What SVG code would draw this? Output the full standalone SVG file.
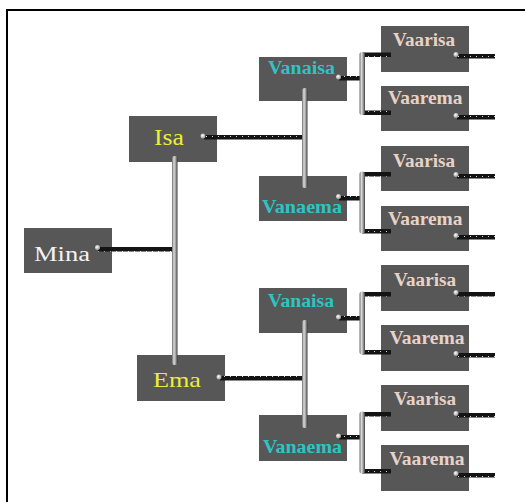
<svg xmlns="http://www.w3.org/2000/svg" width="525" height="502" viewBox="0 0 525 502">
<style>
.box{fill:#575757}
.t{font-family:"Liberation Serif","Times New Roman",serif}
.b{font-weight:bold}
.y{fill:#ecec3a}
.w{fill:#f2f2f2}
.c{fill:#2ec4c4}
.p{fill:#e8d2c6}
.bar{fill:url(#dots)}
.pipe{fill:url(#pipe)}
.knob{fill:url(#knobg)}
</style>
<defs>
<pattern id="dots" patternUnits="userSpaceOnUse" width="6" height="5">
<rect width="6" height="5" fill="#141414"/>
<rect x="2" y="1" width="1" height="1" fill="#d8d8d8"/>
</pattern>
<linearGradient id="pipe" x1="0" y1="0" x2="1" y2="0">
<stop offset="0" stop-color="#6a6a6a"/>
<stop offset="0.35" stop-color="#dcdcdc"/>
<stop offset="0.65" stop-color="#a2a2a2"/>
<stop offset="1" stop-color="#3e3e3e"/>
</linearGradient>
<radialGradient id="knobg" cx="0.4" cy="0.4" r="0.6">
<stop offset="0" stop-color="#ffffff"/>
<stop offset="1" stop-color="#9a9a9a"/>
</radialGradient>
</defs>
<rect width="525" height="502" fill="#ffffff"/>
<g id="frame">
<line x1="6" y1="10" x2="525" y2="10" stroke="#000" stroke-width="2"/>
<line x1="7" y1="9" x2="7" y2="502" stroke="#000" stroke-width="2"/>
</g>
<g id="mina"><rect class="box" x="24" y="228" width="88" height="45"/><text class="t w" x="34" y="261" font-size="20" textLength="56" lengthAdjust="spacingAndGlyphs">Mina</text></g>
<g id="isa"><rect class="box" x="129" y="116" width="88" height="46"/><text class="t y" x="154" y="145" font-size="23" textLength="30" lengthAdjust="spacingAndGlyphs">Isa</text></g>
<g id="ema"><rect class="box" x="137" y="355" width="88" height="46"/><text class="t y" x="153" y="387" font-size="22" textLength="48" lengthAdjust="spacingAndGlyphs">Ema</text></g>
<g id="vanaisa1"><rect class="box" x="259" y="57" width="88" height="44"/><text class="t b c" x="268" y="74" font-size="18.5" textLength="67" lengthAdjust="spacingAndGlyphs">Vanaisa</text></g>
<g id="vanaema1"><rect class="box" x="259" y="176" width="88" height="45"/><text class="t b c" x="262" y="213" font-size="19" textLength="80" lengthAdjust="spacingAndGlyphs">Vanaema</text></g>
<g id="vanaisa2"><rect class="box" x="259" y="288" width="88" height="45"/><text class="t b c" x="268" y="306.5" font-size="18.5" textLength="66" lengthAdjust="spacingAndGlyphs">Vanaisa</text></g>
<g id="vanaema2"><rect class="box" x="259" y="415" width="88" height="46"/><text class="t b c" x="263" y="453" font-size="19" textLength="79" lengthAdjust="spacingAndGlyphs">Vanaema</text></g>
<g id="vaarisa1"><rect class="box" x="381" y="26" width="88" height="46"/><text class="t b p" x="393" y="46" font-size="18.5" textLength="62" lengthAdjust="spacingAndGlyphs">Vaarisa</text></g>
<g id="vaarema1"><rect class="box" x="381" y="86" width="88" height="45"/><text class="t b p" x="388" y="103.5" font-size="19" textLength="74.5" lengthAdjust="spacingAndGlyphs">Vaarema</text></g>
<g id="vaarisa2"><rect class="box" x="381" y="146" width="88" height="45"/><text class="t b p" x="393" y="166.5" font-size="18.5" textLength="62" lengthAdjust="spacingAndGlyphs">Vaarisa</text></g>
<g id="vaarema2"><rect class="box" x="381" y="206" width="88" height="45"/><text class="t b p" x="388" y="225" font-size="19" textLength="74.5" lengthAdjust="spacingAndGlyphs">Vaarema</text></g>
<g id="vaarisa3"><rect class="box" x="381" y="265" width="88" height="46"/><text class="t b p" x="394" y="286" font-size="18.5" textLength="62" lengthAdjust="spacingAndGlyphs">Vaarisa</text></g>
<g id="vaarema3"><rect class="box" x="381" y="325" width="88" height="46"/><text class="t b p" x="389.5" y="343.5" font-size="19" textLength="75" lengthAdjust="spacingAndGlyphs">Vaarema</text></g>
<g id="vaarisa4"><rect class="box" x="381" y="385" width="88" height="46"/><text class="t b p" x="394" y="404.5" font-size="18.5" textLength="62" lengthAdjust="spacingAndGlyphs">Vaarisa</text></g>
<g id="vaarema4"><rect class="box" x="381" y="445" width="88" height="46"/><text class="t b p" x="389.5" y="465" font-size="19" textLength="75" lengthAdjust="spacingAndGlyphs">Vaarema</text></g>
<g id="connectors">
<!-- generation 1 -->
<rect class="bar" x="98" y="247" width="77" height="4.5"/>
<rect class="pipe" x="172" y="156" width="5.5" height="209" rx="2.5"/>
<rect class="bar" x="204" y="135" width="102" height="4.5"/>
<rect class="bar" x="220" y="376" width="86" height="4.5"/>
<!-- generation 2 -->
<rect class="pipe" x="302" y="88" width="5.5" height="100" rx="2.5"/>
<rect class="pipe" x="302" y="320" width="5.5" height="108" rx="2.5"/>
<rect class="bar" x="339" y="76" width="23" height="4.5"/>
<rect class="bar" x="339" y="196" width="23" height="4.5"/>
<rect class="bar" x="339" y="316" width="23" height="4.5"/>
<rect class="bar" x="339" y="435" width="23" height="4.5"/>
<!-- brackets -->
<rect class="bar" x="362" y="52.5" width="29" height="4.5"/>
<rect class="bar" x="362" y="110.5" width="29" height="4.5"/>
<rect class="pipe" x="359.5" y="52" width="5.5" height="63" rx="2.5"/>
<rect class="bar" x="362" y="172" width="29" height="4.5"/>
<rect class="bar" x="362" y="229" width="29" height="4.5"/>
<rect class="pipe" x="359.5" y="171.5" width="5.5" height="62" rx="2.5"/>
<rect class="bar" x="362" y="292" width="29" height="4.5"/>
<rect class="bar" x="362" y="350" width="29" height="4.5"/>
<rect class="pipe" x="359.5" y="291.5" width="5.5" height="63" rx="2.5"/>
<rect class="bar" x="362" y="412" width="29" height="4.5"/>
<rect class="bar" x="362" y="469" width="29" height="4.5"/>
<rect class="pipe" x="359.5" y="411.5" width="5.5" height="62" rx="2.5"/>
<!-- outer bars -->
<rect class="bar" x="457" y="54" width="38" height="4.5"/>
<rect class="bar" x="457" y="115" width="38" height="4.5"/>
<rect class="bar" x="457" y="174" width="38" height="4.5"/>
<rect class="bar" x="457" y="235" width="38" height="4.5"/>
<rect class="bar" x="457" y="292" width="38" height="4.5"/>
<rect class="bar" x="457" y="353" width="38" height="4.5"/>
<rect class="bar" x="457" y="413" width="38" height="4.5"/>
<rect class="bar" x="457" y="473" width="38" height="4.5"/>
<!-- knobs -->
<circle class="knob" cx="97.5" cy="247.5" r="2.5"/>
<circle class="knob" cx="203" cy="136" r="2.5"/>
<circle class="knob" cx="219" cy="377" r="2.5"/>
<circle class="knob" cx="338.5" cy="77" r="2.5"/>
<circle class="knob" cx="338.5" cy="196.5" r="2.5"/>
<circle class="knob" cx="338.5" cy="317" r="2.5"/>
<circle class="knob" cx="338.5" cy="436" r="2.5"/>
<circle class="knob" cx="456" cy="54.5" r="2.5"/>
<circle class="knob" cx="456" cy="115.5" r="2.5"/>
<circle class="knob" cx="456" cy="174.5" r="2.5"/>
<circle class="knob" cx="456" cy="235.5" r="2.5"/>
<circle class="knob" cx="456" cy="292.5" r="2.5"/>
<circle class="knob" cx="456" cy="353.5" r="2.5"/>
<circle class="knob" cx="456" cy="413.5" r="2.5"/>
<circle class="knob" cx="456" cy="473.5" r="2.5"/>
</g>
</svg>
